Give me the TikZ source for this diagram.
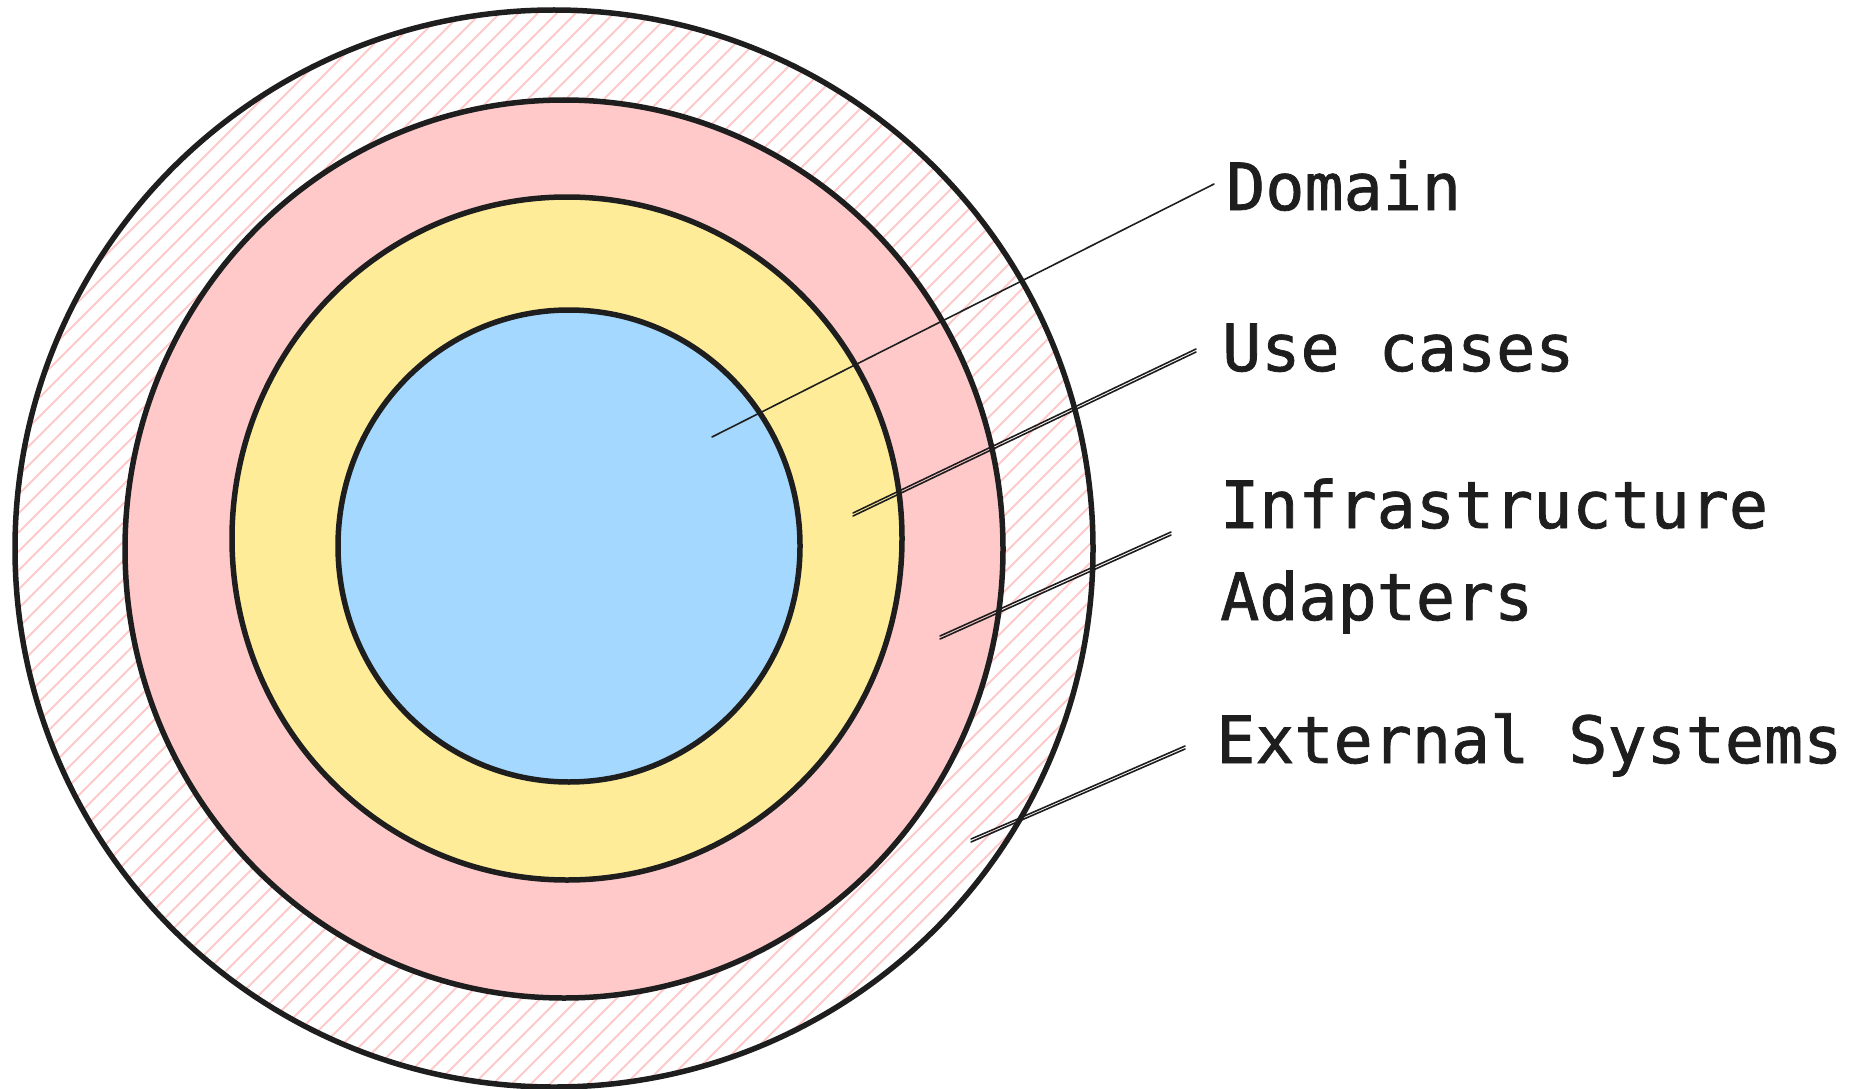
\documentclass[tikz,border=0pt]{standalone}
\usepackage{fontspec}
\newfontfamily\labelfont[FakeBold=1.2]{DejaVu Sans Mono}
\definecolor{ink}{HTML}{1E1E1E}
\definecolor{corefill}{HTML}{A5D8FF}
\definecolor{usefill}{HTML}{FFEC99}
\definecolor{infrafill}{HTML}{FFC9C9}
\definecolor{hatchpink}{HTML}{FFC9C9}
\begin{document}
\begin{tikzpicture}[x=1pt,y=-1pt,
  ring/.style={draw=ink, line width=5.5pt},
  hatchline/.style={draw=hatchpink, line width=2pt},
  leader/.style={draw=ink, line width=1.6pt, line cap=round},
  layerlabel/.style={anchor=base west, inner sep=0pt, text=ink,
    font=\labelfont\fontsize{65}{78}\selectfont}]
\useasboundingbox (0,0) rectangle (1857,1089);

% external systems: hatched outer disc
\begin{scope}
  \clip (554,548.5) ellipse [x radius=539, y radius=538.5];
  \foreach \c in {-1100,-1081,...,1110}
    \draw[hatchline] (\c,1100) -- ++(1100,-1100);
\end{scope}
\draw[ring] (554,548.5) ellipse [x radius=539, y radius=538.5];

% infrastructure / adapters
\draw[ring, fill=infrafill] (564,549) ellipse [x radius=439, y radius=449];

% use cases
\draw[ring, fill=usefill] (567,538.5) ellipse [x radius=335, y radius=341.5];

% domain core
\draw[ring, fill=corefill] (569,546) ellipse [x radius=231, y radius=236];

% labels
\node[layerlabel] (domain)   at (1226,210) {Domain};
\node[layerlabel] (usecases) at (1222,371) {Use cases};
\node[layerlabel] (infra)    at (1220,528) {Infrastructure};
\node[layerlabel] (adapters) at (1220,620) {Adapters};
\node[layerlabel] (external) at (1216,763) {External Systems};

% leader line end points
\coordinate (dA) at (712,437);  \coordinate (dB) at (1214,184);
\coordinate (uA) at (853,513);  \coordinate (uB) at (1196,349);
\coordinate (iA) at (940,636);  \coordinate (iB) at (1171,532);
\coordinate (eA) at (971,839);  \coordinate (eB) at (1185,746);

% leader lines (sketched with a second pass)
\draw[leader] (dA) -- (dB);
\draw[leader] (uA) -- (uB);
\draw[leader] ([yshift=-3pt]uA) -- ([yshift=-3pt]uB);
\draw[leader] (iA) -- (iB);
\draw[leader] ([yshift=-3pt]iA) -- ([yshift=-3pt]iB);
\draw[leader] (eA) -- (1013,821) -- (eB);
\draw[leader] ([yshift=-3pt]eA) -- ([yshift=-3pt]eB);
\end{tikzpicture}
\end{document}
